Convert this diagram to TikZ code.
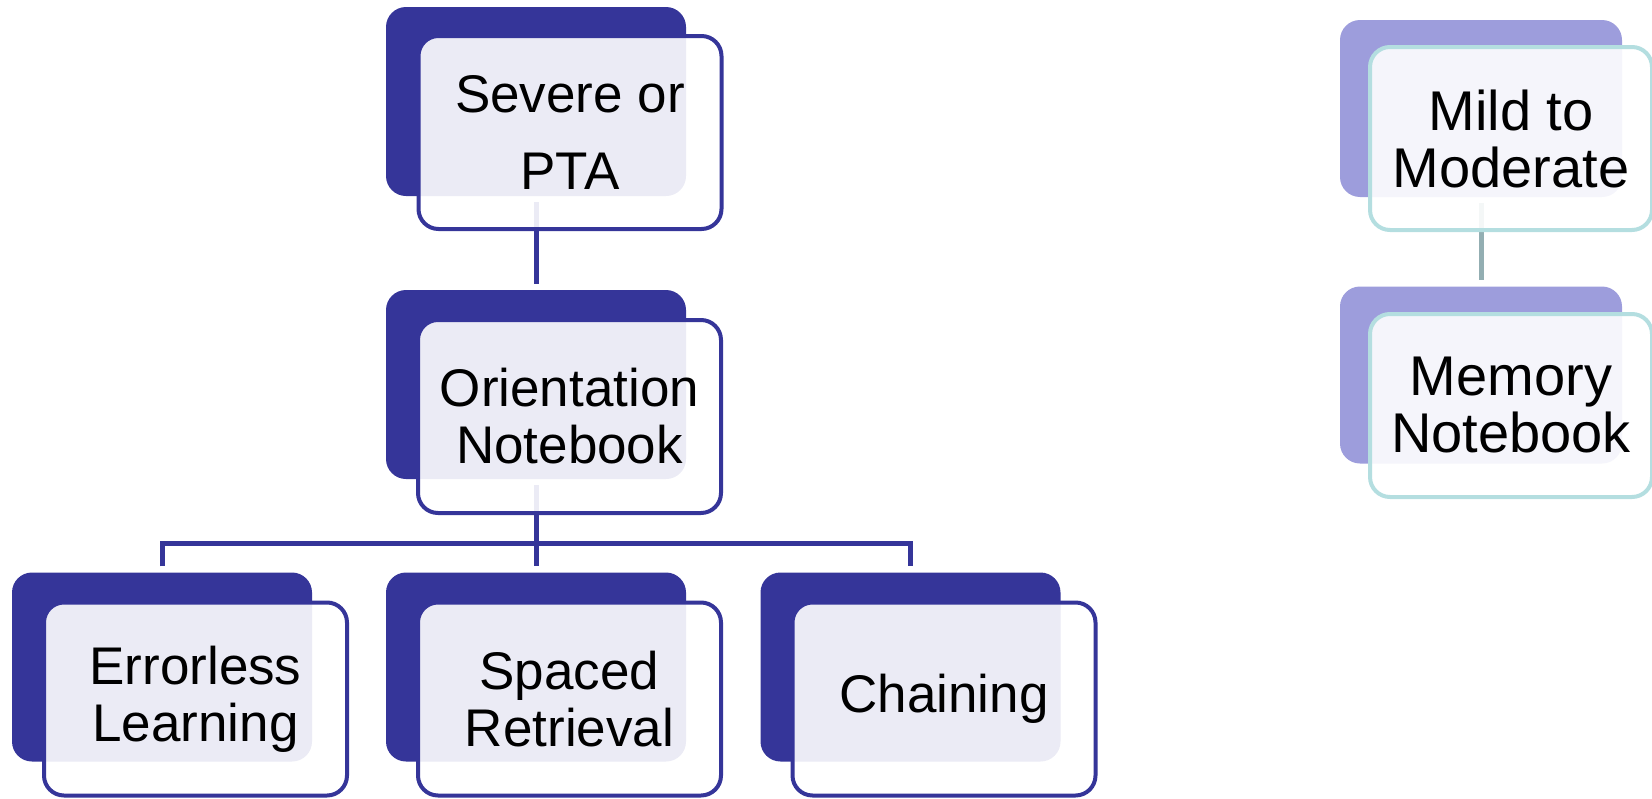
\documentclass[tikz,border=0pt]{standalone}
\usepackage{fontspec}
\setmainfont{Liberation Sans}
\usetikzlibrary{backgrounds}

\definecolor{navy}{HTML}{353599}
\definecolor{lavender}{HTML}{9D9DDC}
\definecolor{paleteal}{HTML}{B4DEE0}
\definecolor{greyteal}{HTML}{93AEB2}

\begin{document}
\begin{tikzpicture}[x=1pt,y=-1pt,
  backbox/.style={fill=navy, rounded corners=20pt, inner sep=0pt,
    minimum width=300pt, minimum height=189pt},
  frontbox/.style={draw=navy, line width=4pt, fill=white, fill opacity=0.9,
    text opacity=1, rounded corners=20pt, inner sep=0pt, align=center,
    minimum width=303pt, minimum height=193pt,
    font=\fontsize{53}{57}\selectfont},
  backlight/.style={fill=lavender, rounded corners=20pt, inner sep=0pt,
    minimum width=282pt, minimum height=177pt},
  frontlight/.style={draw=paleteal, line width=4pt, fill=white, fill opacity=0.9,
    text opacity=1, rounded corners=20pt, inner sep=0pt, align=center,
    minimum width=282pt, minimum height=183pt,
    font=\fontsize{56}{57}\selectfont},
  link/.style={draw=navy, line width=5pt, shorten <=6pt, shorten >=6pt},
  linklight/.style={draw=greyteal, line width=5pt, shorten <=6pt, shorten >=6pt}]

\useasboundingbox (0,0) rectangle (1652,798);
\clip (0,0) rectangle (1652,798);

% left hierarchy
\node[backbox] (sevB) at (536,101.5) {};
\node[frontbox, font=\fontsize{53}{77}\selectfont] (sev) at (570,132.5) {Severe or\\PTA};

\node[backbox] (oriB) at (536,384.5) {};
\node[frontbox] (ori) at (569.5,416.5) {Orientation\\Notebook};

\node[backbox] (errB) at (162,667) {};
\node[frontbox] (err) at (195.5,699) {Errorless\\Learning};

\node[backbox] (spaB) at (536,667) {};
\node[frontbox] (spa) at (569.5,699) {Spaced\\Retrieval};

\node[backbox] (chaB) at (910.5,667) {};
\node[frontbox] (cha) at (944,699) {Chaining};

% right hierarchy
\node[backlight] (milB) at (1481,108.5) {};
\node[frontlight] (mil) at (1511,138.5) {Mild to\\Moderate};

\node[backlight] (memB) at (1481,375) {};
\node[frontlight] (mem) at (1511,405.5) {Memory\\Notebook};

\coordinate (fork) at (536,543);

\begin{scope}[on background layer]
  \draw[link] (sevB.south) -- (oriB.north);
  \draw[link] (oriB.south) -- (spaB.north);
  \draw[link] (errB.north) |- (fork) -| (chaB.north);
  \draw[linklight] (milB.south) -- (memB.north);
\end{scope}
\end{tikzpicture}
\end{document}
